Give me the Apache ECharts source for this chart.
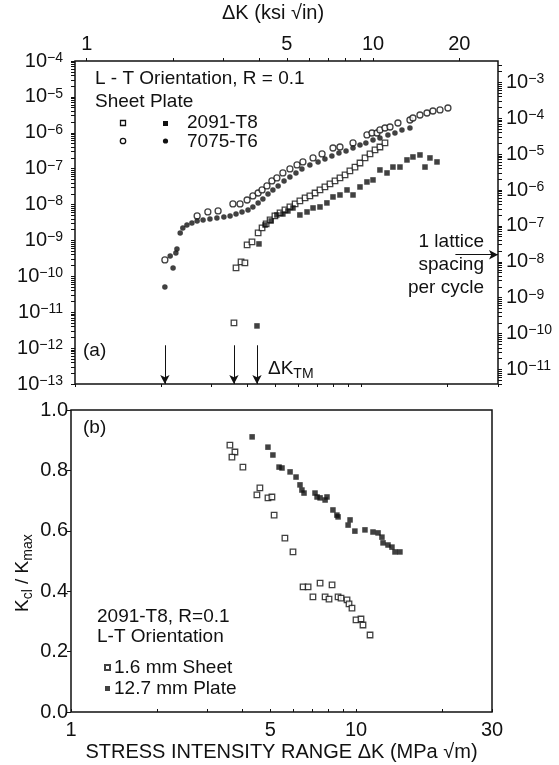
<!DOCTYPE html>
<html><head><meta charset="utf-8">
<script src="https://cdn.jsdelivr.net/npm/echarts@6/dist/echarts.min.js"></script>
<style>html,body{margin:0;padding:0;background:#fff}#c{width:559px;height:765px}</style>
</head><body><div id="c"></div>
<script>
// ---------------- DATA ----------------
// Panel (a): da/dN (m/cycle) vs stress intensity range dK (MPa sqrt m)
const alloy7075Sheet = [
  [2.06,2.86e-10],[2.67,4.81e-9],[2.91,6.22e-9],[3.16,6.64e-9],[3.56,1.04e-8],[3.77,1.04e-8],
  [3.99,1.34e-8],[4.18,1.74e-8],[4.36,2.10e-8],[4.50,2.55e-8],[4.68,3.30e-8],[4.87,4.54e-8],
  [5.07,5.51e-8],[5.32,7.59e-8],[5.63,9.82e-8],[5.96,1.27e-7],[6.25,1.54e-7],[6.78,1.99e-7],
  [7.29,2.57e-7],[7.96,3.77e-7],[8.42,4.02e-7],[9.35,5.20e-7],[10.46,8.69e-7],[10.89,9.87e-7],
  [11.34,9.87e-7],[11.61,1.20e-6],[12.09,1.36e-6],[12.59,1.45e-6],[13.42,1.87e-6],[14.78,2.27e-6],
  [15.14,2.58e-6],[16.02,3.13e-6],[16.95,3.56e-6],[17.78,4.05e-6],[18.82,4.32e-6],[20.06,4.91e-6]
];
const alloy7075Plate = [
  [2.06,5.07e-11],[2.20,1.71e-10],[2.15,3.70e-10],[2.25,4.49e-10],[2.27,5.80e-10],[2.33,1.62e-9],
  [2.38,2.23e-9],[2.46,2.70e-9],[2.56,3.07e-9],[2.67,3.49e-9],[2.80,3.72e-9],[2.96,3.97e-9],
  [3.13,4.24e-9],[3.31,4.52e-9],[3.48,4.81e-9],[3.65,5.47e-9],[3.83,6.22e-9],[4.02,7.08e-9],
  [4.18,8.57e-9],[4.36,1.11e-8],[4.53,1.43e-8],[4.72,1.97e-8],[4.91,2.55e-8],[5.12,3.30e-8],
  [5.37,4.54e-8],[5.63,5.87e-8],[5.91,7.59e-8],[6.20,9.82e-8],[6.61,1.27e-7],[7.06,1.54e-7],
  [7.46,1.86e-7],[7.89,2.26e-7],[8.35,2.74e-7],[8.84,3.11e-7],[9.35,3.77e-7],[9.89,4.57e-7],
  [10.37,5.20e-7],[10.98,6.30e-7],[11.61,7.16e-7],[12.38,8.69e-7],[13.10,9.87e-7],[13.86,1.20e-6],
  [14.78,1.36e-6]
];
const alloy2091Sheet = [
  [3.59,5.03e-12],[3.65,1.71e-10],[3.80,2.52e-10],[3.92,2.36e-10],[3.99,7.50e-10],[4.15,9.08e-10],
  [4.36,1.62e-9],[4.50,2.23e-9],[4.65,2.88e-9],[4.80,3.72e-9],[4.99,4.81e-9],[5.20,5.83e-9],
  [5.41,7.08e-9],[5.63,8.57e-9],[5.87,1.04e-8],[6.10,1.26e-8],[6.36,1.53e-8],[6.61,1.74e-8],
  [6.89,2.10e-8],[7.17,2.55e-8],[7.46,3.09e-8],[7.77,3.75e-8],[8.09,4.54e-8],[8.42,5.51e-8],
  [8.77,6.68e-8],[9.12,8.63e-8],[9.50,1.11e-7],[9.89,1.44e-7],[10.30,1.99e-7],[10.72,2.57e-7],
  [11.16,3.32e-7],[11.61,4.02e-7],[12.09,5.20e-7]
];
const alloy2091Plate = [
  [4.32,4.15e-12],[4.39,8.00e-10],[4.61,2.70e-9],[4.84,3.49e-9],[5.07,5.13e-9],[5.32,5.47e-9],
  [5.54,6.64e-9],[5.77,8.04e-9],[6.10,5.13e-9],[6.46,6.22e-9],[6.78,8.04e-9],[7.17,8.57e-9],
  [7.58,1.11e-8],[7.96,1.63e-8],[8.42,1.85e-8],[8.91,2.55e-8],[9.35,1.85e-8],[9.89,3.09e-8],
  [10.46,4.26e-8],[10.98,4.85e-8],[11.61,9.20e-8],[12.29,7.59e-8],[12.89,1.11e-7],[13.64,1.11e-7],
  [14.43,1.75e-7],[15.14,2.12e-7],[16.02,2.41e-7],[16.68,1.11e-7],[17.36,1.99e-7],[18.37,1.54e-7]
];
// Panel (b): Kcl/Kmax vs dK, 2091-T8
const closureSheet = [
  [3.61,0.884],[3.76,0.861],[3.67,0.844],[4.01,0.811],[4.60,0.742],[4.49,0.719],[4.91,0.709],
  [5.07,0.712],[5.16,0.652],[5.63,0.576],[6.01,0.530],[6.52,0.414],[6.79,0.414],[7.48,0.427],
  [8.24,0.421],[7.06,0.381],[7.79,0.381],[8.04,0.374],[8.65,0.381],[8.86,0.377],[9.30,0.371],
  [9.45,0.358],[9.68,0.344],[10.0,0.305],[10.41,0.308],[10.58,0.288],[11.2,0.255]
];
const closurePlate = [
  [4.32,0.911],[4.91,0.877],[5.11,0.851],[5.37,0.811],[5.50,0.808],[5.87,0.795],[6.16,0.778],
  [6.36,0.752],[6.46,0.735],[6.57,0.725],[7.18,0.725],[7.30,0.712],[7.48,0.709],[7.79,0.702],
  [7.91,0.712],[8.30,0.669],[8.57,0.652],[8.65,0.646],[9.38,0.619],[9.53,0.636],[9.91,0.599],
  [10.75,0.603],[11.47,0.596],[11.95,0.593],[12.33,0.579],[12.44,0.560],[12.95,0.553],
  [13.37,0.546],[13.70,0.530],[14.26,0.530]
];
// annotations (data units)
const dkThresholds = [2.06, 3.59, 4.32];
const thresholdArrowTop = 1.2e-12;
const latticeSpacing = 4.0e-10;
const latticeArrowStartDK = 21.3;
// axes
const dkMin = 1, dkMax = 30;
const rateMin = 1e-13, rateMax = 1e-4;
const leftExpTicks = [-13,-12,-11,-10,-9,-8,-7,-6,-5,-4];
const rightExpTicks = [-11,-10,-9,-8,-7,-6,-5,-4,-3];
const ksiTickLabels = [1, 5, 10, 20];
const mpaTickLabels = [1, 5, 10, 30];
const KSI_TO_MPA = 1.0988;
const INCH_TO_M = 0.0254;

// ---------------- CHART ----------------
const FONT = '"Liberation Sans", Arial, Helvetica, sans-serif';
const FT = 19;   // annotation text
const FL = 20;   // tick labels / titles
const L10 = Math.log10;
function minorLog(lo, hi) {
  const out = [];
  for (let n = Math.floor(lo) - 1; n <= Math.ceil(hi); n++) {
    for (let k = 1; k <= 9; k++) { const v = n + L10(k); if (v >= lo - 1e-9 && v <= hi + 1e-9) out.push(v); }
  }
  return out;
}
const supRich = {
  b: { fontSize: FL, fontFamily: FONT, color: '#111', lineHeight: 20, verticalAlign: 'bottom' },
  s: { fontSize: 14, fontFamily: FONT, color: '#111', lineHeight: 14, verticalAlign: 'top' }
};
const expFmt = v => '{b|10}{s|\u2212' + Math.round(-v) + '}';
const txt = (t, pos) => Object.assign({ type: 'text', style: { text: t, font: FT + 'px ' + FONT, fill: '#111' } }, pos);

const G0 = { left: 75, top: 61, width: 423, height: 323 };
const G1 = { left: 71, top: 410, width: 421, height: 302 };

const rightMin = L10(rateMin / INCH_TO_M), rightMax = L10(rateMax / INCH_TO_M);
const ksiMin = L10(dkMin / KSI_TO_MPA), ksiMax = L10(dkMax / KSI_TO_MPA);
const tickStyle = { color: '#111', width: 1 };
const subRich = {
  k: { fontSize: FT, fontFamily: FONT, fill: '#111', lineHeight: 22, verticalAlign: 'top' },
  t: { fontSize: 14, fontFamily: FONT, fill: '#111', lineHeight: 14, verticalAlign: 'bottom' }
};

const option = {
  animation: false,
  backgroundColor: '#fff',
  textStyle: { fontFamily: FONT },
  grid: [
    Object.assign({ show: true, borderColor: '#111', borderWidth: 1.5, backgroundColor: 'transparent' }, G0),
    Object.assign({ show: true, borderColor: '#111', borderWidth: 1.5, backgroundColor: 'transparent' }, G1)
  ],
  xAxis: [
    { type: 'log', logBase: 10, gridIndex: 0, min: dkMin, max: dkMax, show: false },
    { type: 'value', gridIndex: 0, position: 'top', min: ksiMin, max: ksiMax,
      axisLine: { show: false }, splitLine: { show: false },
      axisTick: { show: true, inside: false, length: 3, lineStyle: tickStyle, customValues: minorLog(ksiMin, ksiMax) },
      axisLabel: { show: true, margin: 7, fontSize: FL, color: '#111', fontFamily: FONT,
        customValues: ksiTickLabels.map(L10), formatter: v => String(Math.round(Math.pow(10, v))) } },
    { type: 'value', gridIndex: 0, position: 'bottom', min: 0, max: L10(dkMax),
      axisLine: { show: false }, splitLine: { show: false },
      axisTick: { show: true, inside: false, length: 3, lineStyle: tickStyle, customValues: minorLog(0, L10(dkMax)) },
      axisLabel: { show: false } },
    { type: 'log', logBase: 10, gridIndex: 1, min: dkMin, max: dkMax, show: false },
    { type: 'value', gridIndex: 1, position: 'bottom', min: 0, max: L10(dkMax),
      axisLine: { show: false }, splitLine: { show: false },
      axisTick: { show: true, inside: true, length: 3, lineStyle: tickStyle, customValues: minorLog(0, L10(dkMax)) },
      axisLabel: { show: true, margin: 8, fontSize: FL, color: '#111', fontFamily: FONT,
        customValues: mpaTickLabels.map(L10), formatter: v => String(Math.round(Math.pow(10, v))) },
      name: 'STRESS INTENSITY RANGE \u0394K (MPa \u221Am)', nameLocation: 'middle', nameGap: 30,
      nameTextStyle: { fontSize: FL, color: '#111', fontFamily: FONT } }
  ],
  yAxis: [
    { type: 'log', logBase: 10, gridIndex: 0, min: rateMin, max: rateMax, show: false },
    { type: 'value', gridIndex: 0, position: 'left', min: L10(rateMin), max: L10(rateMax),
      axisLine: { show: false }, splitLine: { show: false },
      axisTick: { show: true, inside: false, length: 4, lineStyle: tickStyle, customValues: minorLog(L10(rateMin), L10(rateMax)) },
      axisLabel: { show: true, margin: 12, customValues: leftExpTicks, formatter: expFmt, rich: supRich } },
    { type: 'value', gridIndex: 0, position: 'right', min: rightMin, max: rightMax,
      axisLine: { show: false }, splitLine: { show: false },
      axisTick: { show: true, inside: false, length: 4, lineStyle: tickStyle, customValues: minorLog(rightMin, rightMax) },
      axisLabel: { show: true, margin: 8, customValues: rightExpTicks, formatter: expFmt, rich: supRich } },
    { type: 'value', gridIndex: 1, min: 0, max: 1, interval: 0.2,
      axisLine: { show: false }, splitLine: { show: false },
      axisTick: { show: true, inside: false, length: 4, lineStyle: tickStyle },
      axisLabel: { show: true, margin: 3, fontSize: FL, color: '#111', fontFamily: FONT, formatter: v => v.toFixed(1) } }
  ],
  legend: {
    data: ['1.6 mm Sheet', '12.7 mm Plate'], orient: 'vertical', left: 99, top: 653,
    itemWidth: 5, itemHeight: 5, itemGap: 2,
    textStyle: { fontSize: FT, color: '#111', fontFamily: FONT, padding: [0, 0, 0, -1] }
  },
  series: [
    { name: '7075-T6 Sheet', type: 'scatter', xAxisIndex: 0, yAxisIndex: 0, data: alloy7075Sheet,
      symbol: 'circle', symbolSize: 6, itemStyle: { color: '#fff', borderColor: '#111', borderWidth: 1.3 },
      markLine: { silent: true, symbol: ['none', 'arrow'], symbolSize: [7, 9], label: { show: false },
        lineStyle: { color: '#111', width: 1, type: 'solid' },
        data: dkThresholds.map(x => [{ coord: [x, thresholdArrowTop] }, { coord: [x, rateMin] }])
          .concat([[{ coord: [latticeArrowStartDK, latticeSpacing] }, { coord: [dkMax, latticeSpacing] }]]) } },
    { name: '7075-T6 Plate', type: 'scatter', xAxisIndex: 0, yAxisIndex: 0, data: alloy7075Plate,
      symbol: 'circle', symbolSize: 5.5, itemStyle: { color: '#111' } },
    { name: '2091-T8 Sheet', type: 'scatter', xAxisIndex: 0, yAxisIndex: 0, data: alloy2091Sheet,
      symbol: 'rect', symbolSize: 5.5, itemStyle: { color: '#fff', borderColor: '#111', borderWidth: 1.3 } },
    { name: '2091-T8 Plate', type: 'scatter', xAxisIndex: 0, yAxisIndex: 0, data: alloy2091Plate,
      symbol: 'rect', symbolSize: 5.5, itemStyle: { color: '#111' } },
    { name: '1.6 mm Sheet', type: 'scatter', xAxisIndex: 3, yAxisIndex: 3, data: closureSheet,
      symbol: 'rect', symbolSize: 5.5, itemStyle: { color: '#fff', borderColor: '#111', borderWidth: 1.3 } },
    { name: '12.7 mm Plate', type: 'scatter', xAxisIndex: 3, yAxisIndex: 3, data: closurePlate,
      symbol: 'rect', symbolSize: 5.5, itemStyle: { color: '#111' } }
  ],
  graphic: [
    { type: 'text', left: 222, top: 3, style: { text: '\u0394K (ksi \u221Ain)', font: FL + 'px ' + FONT, fill: '#111' } },
    txt('L - T Orientation, R = 0.1', { left: 95, top: 69 }),
    txt('Sheet Plate', { left: 95, top: 92 }),
    txt('2091-T8', { left: 187, top: 113 }),
    txt('7075-T6', { left: 187, top: 132 }),
    { type: 'rect', shape: { x: 120.5, y: 120.5, width: 5, height: 5 }, style: { fill: '#fff', stroke: '#111', lineWidth: 1.3 } },
    { type: 'rect', shape: { x: 163, y: 121, width: 5, height: 5 }, style: { fill: '#111' } },
    { type: 'circle', shape: { cx: 123, cy: 141, r: 2.7 }, style: { fill: '#fff', stroke: '#111', lineWidth: 1.3 } },
    { type: 'circle', shape: { cx: 165.5, cy: 141, r: 2.6 }, style: { fill: '#111' } },
    txt('(a)', { left: 83, top: 341 }),
    { type: 'text', left: 268, top: 359, style: { text: '{k|\u0394K}{t|TM}', rich: subRich } },
    txt('1 lattice', { right: 559 - 484, top: 232 }),
    txt('spacing', { right: 559 - 484, top: 255 }),
    txt('per cycle', { right: 559 - 484, top: 278 }),
    txt('(b)', { left: 83, top: 418 }),
    txt('2091-T8, R=0.1', { left: 97, top: 607 }),
    txt('L-T Orientation', { left: 97, top: 627 }),
    { type: 'text', x: 13, y: 612, rotation: Math.PI / 2, style: { text: '{k|K}{t|cl}{k| / K}{t|max}', rich: subRich } }
  ]
};
const chart = echarts.init(document.getElementById('c'), null, { renderer: 'canvas' });
chart.setOption(option);
</script>
</body></html>
